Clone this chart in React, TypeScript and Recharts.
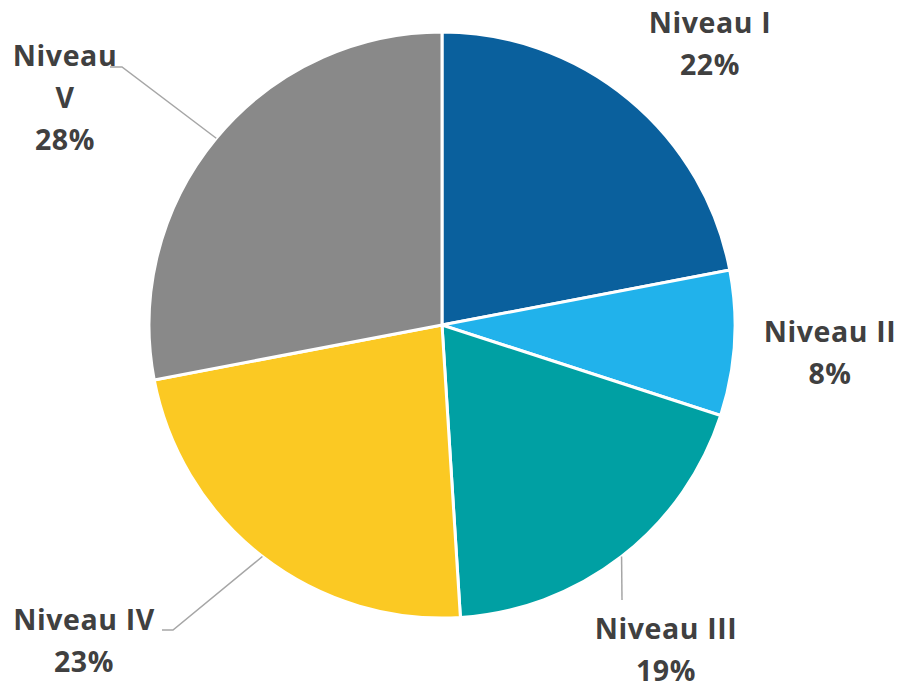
import React from "react";
import { PieChart, Pie, Cell } from "recharts";

const categories = ["Niveau I", "Niveau II", "Niveau III", "Niveau IV", "Niveau V"];
const percentages = [22, 8, 19, 23, 28];
const colors = ["#0A609D", "#21B2EB", "#00A0A3", "#FBC923", "#898989"];

// label layout (offsets relative to pie centre), kept apart from the data
const labelLines: string[][] = [
  ["Niveau I"],
  ["Niveau II"],
  ["Niveau III"],
  ["Niveau IV"],
  ["Niveau", "V"],
];
const labelLayout = [
  { dx: 268, dy: -292, leader: [] as number[][] },
  { dx: 388, dy: 17, leader: [] as number[][] },
  { dx: 224, dy: 314, leader: [[180, 275]] },
  { dx: -358, dy: 305, leader: [[-269, 305], [-280, 305]] },
  { dx: -377, dy: -259, leader: [[-320, -258], [-332, -258]] },
];
const LINE_H = 42;
const RADIAN = Math.PI / 180;

const data = categories.map((name, i) => ({ name, value: percentages[i] }));

const renderLabel = (props: any) => {
  const { cx, cy, midAngle, outerRadius, index, value } = props;
  const ex = cx + outerRadius * Math.cos(-midAngle * RADIAN);
  const ey = cy + outerRadius * Math.sin(-midAngle * RADIAN);
  const lay = labelLayout[index];
  const lines = [...labelLines[index], `${value}%`];
  const pts = [[ex, ey], ...lay.leader.map(([x, y]) => [cx + x, cy + y])];
  return (
    <g key={`lbl-${index}`}>
      {lay.leader.length > 0 && (
        <polyline
          points={pts.map((p) => p.join(",")).join(" ")}
          fill="none"
          stroke="#A6A6A6"
          strokeWidth={1.5}
        />
      )}
      <text
        x={cx + lay.dx}
        y={cy + lay.dy}
        textAnchor="middle"
        fill="#404040"
        fontFamily="'Open Sans', sans-serif"
        fontWeight={700}
        fontSize={28.5}
        letterSpacing={0.6}
      >
        {lines.map((l, k) => (
          <tspan key={k} x={cx + lay.dx} y={cy + lay.dy + k * LINE_H}>
            {l}
          </tspan>
        ))}
      </text>
    </g>
  );
};

export default function App() {
  return (
    <div style={{ position: "absolute", left: 0, top: 0, background: "#fff" }}>
      <PieChart width={899} height={685} margin={{ top: 0, right: 0, bottom: 0, left: 0 }}>
        <Pie
          data={data}
          dataKey="value"
          nameKey="name"
          cx={442}
          cy={325}
          outerRadius={293}
          startAngle={90}
          endAngle={-270}
          stroke="#FFFFFF"
          strokeWidth={3}
          label={renderLabel}
          labelLine={false}
          isAnimationActive={false}
        >
          {data.map((d, i) => (
            <Cell key={d.name} fill={colors[i]} />
          ))}
        </Pie>
      </PieChart>
    </div>
  );
}
